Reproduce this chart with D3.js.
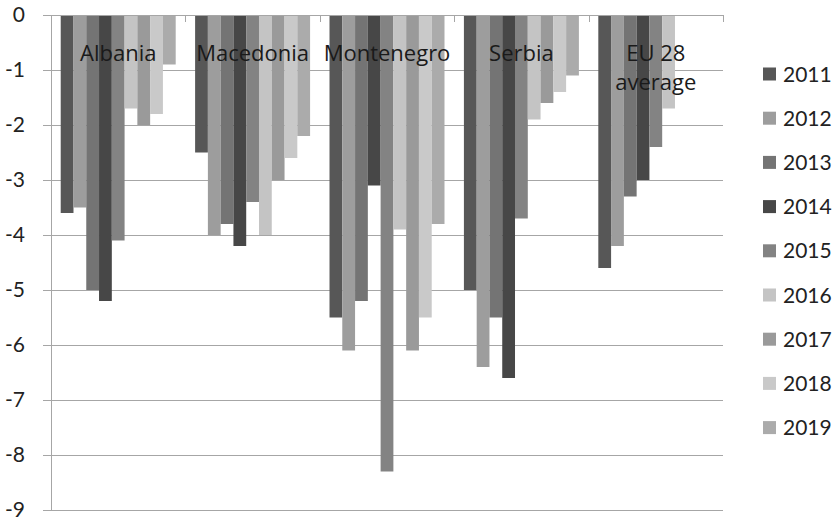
<!DOCTYPE html>
<html>
<head>
<meta charset="utf-8">
<script src="https://cdn.jsdelivr.net/npm/d3@7/dist/d3.min.js"></script>
<style>
  html, body { margin: 0; padding: 0; background: #fff; }
  svg { display: block; }
  text { font-family: Lato, "Open Sans", sans-serif; }
  text.cat { font-family: "Open Sans", Lato, sans-serif; }
</style>
</head>
<body>
<svg id="chart" width="840" height="524"></svg>
<script>
const categories = ["Albania", "Macedonia", "Montenegro", "Serbia", "EU 28 average"];
const categoryLines = [["Albania"], ["Macedonia"], ["Montenegro"], ["Serbia"], ["EU 28", "average"]];
const years = ["2011", "2012", "2013", "2014", "2015", "2016", "2017", "2018", "2019"];
const colors = ["#575757", "#9d9d9d", "#747474", "#474747", "#838383", "#c4c4c4", "#9a9a9a", "#c9c9c9", "#ababab"];
// values per category, in year order
const albania    = [-3.6, -3.5, -5.0, -5.2, -4.1, -1.7, -2.0, -1.8, -0.9];
const macedonia  = [-2.5, -4.0, -3.8, -4.2, -3.4, -4.0, -3.0, -2.6, -2.2];
const montenegro = [-5.5, -6.1, -5.2, -3.1, -8.3, -3.9, -6.1, -5.5, -3.8];
const serbia     = [-5.0, -6.4, -5.5, -6.6, -3.7, -1.9, -1.6, -1.4, -1.1];
const eu28       = [-4.6, -4.2, -3.3, -3.0, -2.4, -1.7, null, null, null];
const yTicks = [0, -1, -2, -3, -4, -5, -6, -7, -8, -9];

const series = [albania, macedonia, montenegro, serbia, eu28];

const svg = d3.select("#chart");
const plot = { left: 51, right: 723, top: 15, bottom: 510 };

const y = d3.scaleLinear().domain([0, -9]).range([plot.top, plot.bottom]);
const x0 = d3.scaleBand().domain(categories).range([plot.left, plot.right]).padding(0);
const x1 = d3.scaleBand().domain(years).range([0, x0.bandwidth()]).paddingInner(0).paddingOuter(0.76);

// gridlines
svg.append("g").selectAll("line").data(yTicks).join("line")
  .attr("x1", plot.left - 8).attr("x2", plot.right)
  .attr("y1", d => Math.round(y(d)) + 0.5).attr("y2", d => Math.round(y(d)) + 0.5)
  .attr("stroke", "#a6a6a6").attr("stroke-width", 1);

// y axis line
svg.append("line")
  .attr("x1", plot.left + 0.5).attr("x2", plot.left + 0.5)
  .attr("y1", plot.top).attr("y2", plot.bottom)
  .attr("stroke", "#a6a6a6");

// y tick labels
svg.append("g").selectAll("text").data(yTicks).join("text")
  .attr("x", 25).attr("y", d => y(d) + 7)
  .attr("text-anchor", "end")
  .attr("font-size", 21).attr("fill", "#222")
  .text(d => d === 0 ? "0" : "-" + Math.abs(d));

// bars
const groups = svg.append("g").selectAll("g").data(categories).join("g")
  .attr("transform", d => `translate(${x0(d)},0)`);
groups.selectAll("rect")
  .data((c, i) => years.map((yr, j) => ({ yr, v: series[i][j], color: colors[j] })).filter(d => d.v !== null))
  .join("rect")
  .attr("x", d => x1(d.yr))
  .attr("width", x1.bandwidth())
  .attr("y", y(0))
  .attr("height", d => y(d.v) - y(0))
  .attr("fill", d => d.color);

// category tick marks at top
const catBounds = categories.slice(1).map(c => x0(c)).concat([plot.right]);
svg.append("g").selectAll("line").data(catBounds).join("line")
  .attr("x1", d => Math.round(d) + 0.5).attr("x2", d => Math.round(d) + 0.5)
  .attr("y1", plot.top).attr("y2", plot.top + 7)
  .attr("stroke", "#a6a6a6");

// top axis line
svg.append("line")
  .attr("x1", plot.left - 8).attr("x2", plot.right)
  .attr("y1", Math.round(y(0)) + 0.5).attr("y2", Math.round(y(0)) + 0.5)
  .attr("stroke", "#a6a6a6");

// category labels
categories.forEach((c, i) => {
  const t = svg.append("text")
    .attr("class", "cat")
    .attr("x", x0(c) + x0.bandwidth() / 2)
    .attr("y", 61)
    .attr("text-anchor", "middle")
    .attr("font-size", 22).attr("fill", "#1a1a1a");
  categoryLines[i].forEach((ln, k) => {
    t.append("tspan").attr("x", x0(c) + x0.bandwidth() / 2).attr("dy", k === 0 ? 0 : 29).text(ln);
  });
});

// legend
const legend = svg.append("g").selectAll("g").data(years).join("g")
  .attr("transform", (d, i) => `translate(763, ${74 + i * 44.2})`);
legend.append("rect").attr("x", 0).attr("y", -6.5).attr("width", 13).attr("height", 13)
  .attr("fill", (d, i) => colors[i]);
legend.append("text").attr("x", 20).attr("y", 7.5)
  .attr("font-size", 21).attr("fill", "#222").text(d => d);
</script>
</body>
</html>
